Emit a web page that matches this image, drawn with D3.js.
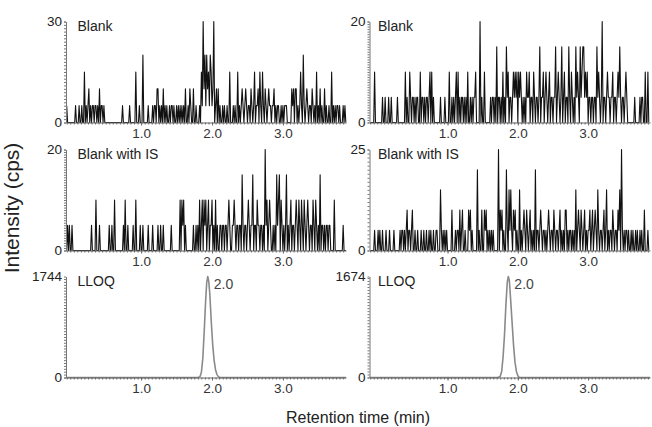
<!DOCTYPE html>
<html lang="en">
<head>
    <meta charset="UTF-8">
    <title>Chromatograms</title>
    <style>
        body { margin: 0; background: #fff; }
        svg { display: block; font-family: "Liberation Sans", Arial, sans-serif; }
    </style>
</head>
<body>
<script src="https://d3js.org/d3.v7.min.js" type="text/javascript"></script>
<script>
    // Noise traces, intensity in cps, one value per scan (scan step 0.0125 min)
    const scanStep = 0.0125;
    const blankLeftStart = -0.05;
    const blankLeft = [
        5,0,0,0,0,0,0,0,0,0, 5,0,0,0,5,0,0,5,0,0, 15,0,5,0,5,10,0,5,0,5, 5,0,5,5,0,5,0,10,0,5,
        5,0,5,0,0,0,0,0,0,0, 0,0,0,0,0,0,0,0,0,0, 0,0,0,5,0,0,0,0,0,0, 0,5,0,0,0,0,0,0,15,0,
        0,0,5,0,0,0,20,0,0,0, 0,0,5,0,0,0,0,5,0,5, 5,0,10,10,0,5,0,5,0,10, 0,5,0,5,0,0,5,0,5,5,
        0,5,0,0,5,0,5,0,5,0, 5,0,5,0,10,0,0,5,0,10, 5,0,0,10,0,0,5,0,0,0, 5,0,15,5,30,10,20,5,20,10,
        15,5,20,15,5,10,30,0,5,10, 0,10,0,5,0,0,5,0,5,0, 0,5,0,0,15,0,0,0,5,0, 5,0,0,15,0,5,0,5,10,5,
        0,5,10,5,0,5,5,0,10,5, 0,5,15,0,5,5,10,0,15,5, 0,15,5,0,10,5,0,5,10,5, 5,0,5,5,10,0,5,0,5,5,
        0,0,5,0,5,0,5,5,5,0, 0,0,0,0,10,5,10,0,10,10, 0,5,0,5,15,5,0,20,5,0, 5,10,5,0,5,5,0,10,5,0,
        5,0,15,0,5,0,10,0,5,0, 0,10,0,5,0,0,5,0,0,15, 0,5,0,5,0,5,5,0,5,0, 0,0,5,0,5,0
    ];
    const blankRightStart = -0.1;
    const blankRight = [
        0,0,0,0,0,10,0,0,0,0, 0,0,0,0,5,0,0,5,0,0, 0,5,0,0,5,0,0,0,0,0, 0,5,0,0,0,0,0,0,0,0,
        10,0,5,0,0,10,5,0,5,5, 0,5,0,5,5,0,0,10,0,5, 5,0,5,0,5,5,0,5,10,0, 10,0,5,0,0,0,0,0,0,0,
        5,0,0,0,0,5,0,0,0,0, 10,0,0,5,0,5,0,5,10,0, 10,0,5,0,5,5,0,5,0,5, 0,10,0,0,5,0,5,0,5,5,
        10,0,0,0,0,20,0,5,0,0, 10,0,0,0,0,0,0,5,0,5, 5,0,5,0,15,0,5,5,0,5, 0,10,0,5,0,15,5,10,0,5,
        5,0,5,10,5,10,5,10,0,10, 5,10,5,0,5,0,5,0,10,5, 5,10,0,5,5,0,10,5,0,5, 5,0,5,15,0,5,5,10,0,5,
        10,5,0,5,10,0,5,5,0,5, 5,15,0,5,10,5,0,5,15,0, 5,10,0,5,5,0,15,5,0,10, 5,0,5,0,15,5,10,5,0,15,
        5,10,15,15,5,10,5,10,0,5, 5,0,5,5,0,5,5,0,15,5, 10,5,0,5,20,0,5,5,0,5, 10,5,5,0,5,5,10,0,5,5,
        0,5,10,5,15,5,0,5,5,0, 5,10,5,0,0,0,0,0,0,0, 0,5,0,0,0,0,0,5,0,5, 5,0,0,10,0,0,10,0
    ];
    const blankIsLeft = [
        0,5,0,5,0,0,5,0,0,0, 0,0,0,0,0,0,0,0,0,0, 0,0,0,0,0,0,0,0,5,0, 0,0,0,10,0,0,0,5,0,0,
        0,0,0,0,0,0,0,0,5,0, 0,5,0,0,10,0,0,0,0,0, 0,0,0,0,5,0,10,0,0,5, 0,0,0,0,0,5,0,0,10,0,
        0,0,0,5,0,0,5,0,0,0, 0,0,5,0,0,0,0,5,0,0, 0,0,0,5,0,0,5,0,0,5, 0,0,0,0,0,0,0,0,5,0,
        0,0,0,0,0,0,0,0,10,0, 10,5,10,0,5,0,0,0,0,0, 0,0,0,5,0,0,5,0,5,0, 10,0,5,10,0,10,5,10,0,5,
        10,0,5,5,10,0,5,0,10,0, 5,0,0,5,5,0,5,5,0,5, 5,0,5,10,5,0,0,5,5,10, 5,0,5,5,0,5,5,0,15,5,
        0,5,5,0,5,10,5,0,5,5, 15,0,5,5,0,10,5,5,0,5, 5,0,5,0,20,5,10,0,5,10, 5,0,0,5,0,5,0,15,5,10,
        15,0,10,5,0,5,0,5,15,0, 5,0,5,10,0,5,5,0,5,10, 5,0,10,5,0,10,5,0,10,5, 0,5,10,5,0,5,5,0,10,5,
        0,10,5,0,5,0,15,0,5,5, 0,5,0,5,5,0,5,5,0,0, 0,0,10,0,0,0,0,0,0,0, 0,0,5,0,0,0
    ];
    const blankIsRight = [
        0,0,0,0,0,5,0,0,0,5, 0,5,0,0,5,0,0,0,5,0, 0,0,5,0,0,0,0,5,0,0, 0,0,0,0,5,0,5,5,0,5,
        0,5,10,0,5,5,0,5,10,0, 0,5,0,0,5,0,0,0,5,0, 0,5,0,0,5,0,0,5,0,5, 0,0,5,0,0,5,5,0,0,0,
        15,5,0,5,0,5,0,5,0,0, 0,0,0,10,0,0,0,5,0,5, 5,0,10,0,5,10,0,0,5,0, 0,0,10,5,10,0,5,0,0,0,
        0,0,20,0,5,0,0,10,0,0, 10,5,10,0,5,0,5,0,5,0, 5,0,0,0,0,0,25,0,10,5, 10,0,5,0,0,20,5,0,15,5,
        15,5,0,10,5,10,0,5,0,0, 15,0,5,0,5,10,5,0,10,5, 0,5,10,0,5,0,5,0,20,0, 5,5,0,5,10,5,0,5,5,0,
        5,0,5,10,5,0,5,5,0,10, 5,0,5,5,0,5,10,0,5,0, 5,0,10,10,0,5,0,5,5,0, 5,0,5,0,15,0,5,10,5,0,
        10,5,0,5,10,0,5,0,5,5, 10,0,5,10,0,5,10,5,0,15, 5,0,5,5,0,5,10,0,5,15, 0,5,0,5,5,0,10,5,0,5,
        5,0,10,5,15,0,25,5,0,5, 0,5,5,0,5,0,0,5,0,5, 0,0,5,0,5,0,0,5,0,5, 0,0,10,0,0,0,5,0
    ];

    // LLOQ peaks (retention time in min, intensity in cps)
    const lloqLeftTime = [-0.06, 1.80, 1.83, 1.85, 1.87, 1.89, 1.91, 1.925, 1.94, 1.955, 1.97, 1.99, 2.01, 2.03, 2.05, 2.07, 2.09, 2.11, 3.89];
    const lloqLeftValue = [0, 0, 15, 90, 330, 800, 1330, 1640, 1744, 1650, 1420, 950, 560, 290, 130, 50, 15, 0, 0];
    const lloqRightTime = [-0.11, 1.72, 1.75, 1.77, 1.79, 1.81, 1.83, 1.85, 1.865, 1.88, 1.90, 1.92, 1.94, 1.96, 1.98, 2.00, 2.02, 3.88];
    const lloqRightValue = [0, 0, 20, 100, 340, 700, 1200, 1580, 1674, 1600, 1250, 880, 520, 250, 100, 30, 0, 0];

    const panelMax = [30, 20, 20, 25, 1744, 1674];
    const panelLabels = ["Blank", "Blank", "Blank with IS", "Blank with IS", "LLOQ", "LLOQ"];
    const xTickValues = [1.0, 2.0, 3.0];
    const peakLabel = "2.0";
    const peakTime = [1.94, 1.865];

    // Layout
    const width = 652, height = 427;
    const colDomain = [[-0.06, 3.89], [-0.11, 3.88]];
    const colRange = [[66, 346], [369.5, 650]];
    const labelX = [77.5, 378];
    const rowTop = [21.5, 149.5, 276.5];
    const plotH = 101;

    const svg = d3.select("body").append("svg")
        .attr("width", width)
        .attr("height", height);

    function toPoints(values, start) {
        return values.map((v, i) => ({t: start + i * scanStep, v: v}));
    }

    const traces = [
        toPoints(blankLeft, blankLeftStart),
        toPoints(blankRight, blankRightStart),
        toPoints(blankIsLeft, blankLeftStart),
        toPoints(blankIsRight, blankRightStart),
        lloqLeftTime.map((t, i) => ({t: t, v: lloqLeftValue[i]})),
        lloqRightTime.map((t, i) => ({t: t, v: lloqRightValue[i]}))
    ];

    traces.forEach((trace, k) => {
        const row = Math.floor(k / 2), col = k % 2;
        const isPeak = row === 2;

        const x = d3.scaleLinear().domain(colDomain[col]).range(colRange[col]);
        const y = d3.scaleLinear().domain([0, panelMax[k]]).range([rowTop[row] + plotH, rowTop[row]]);
        const g = svg.append("g");

        // trace
        g.append("path")
            .datum(trace)
            .attr("fill", "none")
            .attr("stroke", isPeak ? "#8a8a8a" : "#111")
            .attr("stroke-width", isPeak ? 1.6 : 1.1)
            .attr("stroke-linejoin", "round")
            .attr("d", d3.line().x(d => x(d.t)).y(d => y(d.v)));

        // minor ticks x
        g.append("g")
            .attr("transform", `translate(0,${y(0)})`)
            .call(d3.axisBottom(x).tickValues(x.ticks(80)).tickSize(2).tickSizeOuter(0).tickFormat(""))
            .call(a => a.selectAll("line,path").attr("stroke", "#666"));

        // labelled x ticks
        g.append("g")
            .attr("transform", `translate(0,${y(0)})`)
            .call(d3.axisBottom(x).tickValues(xTickValues).tickSize(3).tickSizeOuter(0).tickFormat(d3.format(".1f")))
            .call(a => a.select(".domain").remove())
            .call(a => a.selectAll("line").attr("stroke", "#666"))
            .call(a => a.selectAll("text")
                .attr("font-size", 13.5)
                .attr("fill", "#333")
                .attr("font-family", "Liberation Sans, Arial, sans-serif"));

        // y axis with minor ticks
        g.append("g")
            .attr("transform", `translate(${colRange[col][0]},0)`)
            .call(d3.axisLeft(y).tickValues(y.ticks(30)).tickSize(2).tickSizeOuter(0).tickFormat(""))
            .call(a => a.selectAll("line,path").attr("stroke", "#777"));

        g.append("g")
            .attr("transform", `translate(${colRange[col][0]},0)`)
            .call(d3.axisLeft(y).tickValues([0, panelMax[k]]).tickSize(2).tickPadding(2).tickFormat(d3.format("d")))
            .call(a => a.select(".domain").remove())
            .call(a => a.selectAll("line").attr("stroke", "#777"))
            .call(a => a.selectAll("text")
                .attr("font-size", 13.5)
                .attr("fill", "#222")
                .attr("font-family", "Liberation Sans, Arial, sans-serif"));

        // panel label
        g.append("text")
            .attr("x", labelX[col])
            .attr("y", rowTop[row] + 9.5)
            .attr("font-size", 14)
            .attr("fill", "#222")
            .text(panelLabels[k]);

        if (isPeak) {
            g.append("text")
                .attr("x", x(peakTime[col]) + 6)
                .attr("y", rowTop[row] + 12)
                .attr("font-size", 14)
                .attr("fill", "#444")
                .text(peakLabel);
        }
    });

    // axis titles
    svg.append("text")
        .attr("x", 358)
        .attr("y", 423)
        .attr("text-anchor", "middle")
        .attr("font-size", 16)
        .attr("fill", "#222")
        .text("Retention time (min)");

    svg.append("text")
        .attr("transform", "translate(19,208) rotate(-90)")
        .attr("text-anchor", "middle")
        .attr("font-size", 21)
        .attr("fill", "#222")
        .text("Intensity (cps)");
</script>
</body>
</html>
